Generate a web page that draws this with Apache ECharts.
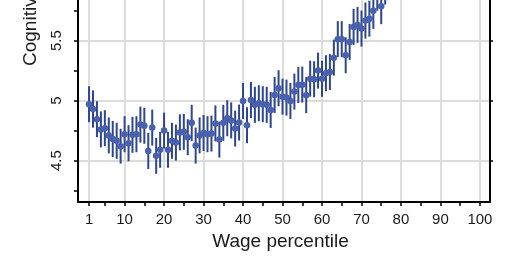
<!DOCTYPE html>
<html>
<head>
<meta charset="utf-8">
<script src="https://cdn.jsdelivr.net/npm/echarts@6/dist/echarts.min.js"></script>
<style>
html,body{margin:0;padding:0;background:#fff;}
#chart{width:520px;height:272px;}
</style>
</head>
<body>
<div id="chart"></div>
<script>
const percentiles = [1,2,3,4,5,6,7,8,9,10,11,12,13,14,15,16,17,18,19,20,21,22,23,24,25,26,27,28,29,30,31,32,33,34,35,36,37,38,39,40,41,42,43,44,45,46,47,48,49,50,51,52,53,54,55,56,57,58,59,60,61,62,63,64,65,66,67,68,69,70,71,72,73,74,75,76];
const meanScore = [4.97,4.93,4.845,4.76,4.77,4.71,4.68,4.665,4.62,4.72,4.645,4.715,4.72,4.80,4.79,4.58,4.775,4.54,4.59,4.75,4.59,4.665,4.65,4.735,4.74,4.695,4.815,4.625,4.71,4.73,4.72,4.725,4.81,4.675,4.815,4.853,4.835,4.767,4.817,4.997,4.795,5.005,4.965,4.978,4.97,4.965,4.922,5.047,5.103,5.033,5.025,4.997,5.075,5.13,5.133,5.045,5.183,5.178,5.25,5.182,5.228,5.238,5.358,5.512,5.512,5.378,5.489,5.614,5.631,5.60,5.667,5.683,5.748,5.90,5.787,5.95];
const errHalf = [0.15,0.155,0.15,0.15,0.15,0.15,0.15,0.15,0.145,0.15,0.15,0.15,0.15,0.15,0.15,0.15,0.15,0.15,0.15,0.15,0.15,0.15,0.15,0.15,0.15,0.15,0.15,0.15,0.15,0.15,0.15,0.15,0.15,0.15,0.15,0.15,0.15,0.15,0.15,0.15,0.15,0.15,0.15,0.15,0.15,0.15,0.15,0.15,0.15,0.15,0.15,0.15,0.15,0.15,0.15,0.15,0.15,0.15,0.15,0.15,0.15,0.15,0.15,0.15,0.15,0.15,0.15,0.15,0.15,0.15,0.15,0.15,0.15,0.15,0.15,0.15];
const xTickLabels = [1,10,20,30,40,50,60,70,80,90,100];
const xTickMarks = [1,5,10,15,20,25,30,35,40,45,50,55,60,65,70,75,80,85,90,95,100];
const yTickLabels = [4.5,5,5.5];
const yTickMarks = [4.25,4.5,4.75,5,5.25,5.5,5.75];
const yGridValues = [4.5,5,5.5];
const xTitle = 'Wage percentile';
const yTitle = 'Cognitive ability';

const pointData = percentiles.map((p, i) => [p, meanScore[i]]);
const barData = percentiles.map((p, i) => [p, meanScore[i] - errHalf[i], meanScore[i] + errHalf[i]]);

const gridLineStyle = {color: '#dcdcdc', width: 2, type: 'solid'};
const gridMarks = xTickLabels.map(v => ({xAxis: v})).concat(yGridValues.map(v => ({yAxis: v})));

const chart = echarts.init(document.getElementById('chart'), null, {renderer: 'canvas'});
const font = 'Liberation Sans';
chart.setOption({
  animation: false,
  backgroundColor: '#ffffff',
  textStyle: {fontFamily: font},
  grid: {left: 78, right: 30, top: 0, bottom: 70, containLabel: false},
  xAxis: {
    type: 'value', min: -1.8, max: 102.55, z: 5,
    axisLine: {show: true, onZero: false, lineStyle: {color: '#000', width: 2}},
    axisTick: {show: true, length: 4, inside: false, customValues: xTickMarks, lineStyle: {color: '#000', width: 1.5}},
    axisLabel: {show: true, customValues: xTickLabels, margin: 10, fontSize: 15, color: '#1a1a1a', fontFamily: font},
    splitLine: {show: false}
  },
  yAxis: [{
    type: 'value', min: 4.155, max: 5.8383, position: 'left', z: 5,
    axisLine: {show: true, onZero: false, lineStyle: {color: '#000', width: 2}},
    axisTick: {show: true, length: 4, inside: false, customValues: yTickMarks, lineStyle: {color: '#000', width: 1.5}},
    axisLabel: {show: true, customValues: yTickLabels, rotate: 90, margin: 14, fontSize: 15, color: '#1a1a1a', fontFamily: font},
    splitLine: {show: false}
  }, {
    type: 'value', min: 4.155, max: 5.8383, position: 'right', z: 5,
    axisLine: {show: true, onZero: false, lineStyle: {color: '#000', width: 2}},
    axisTick: {show: true, length: 3, inside: false, customValues: yGridValues, lineStyle: {color: '#000', width: 1.5}},
    axisLabel: {show: false},
    splitLine: {show: false}
  }],
  series: [{
    type: 'line', data: [], z: 0, silent: true,
    markLine: {
      z: 0, silent: true, symbol: ['none', 'none'], label: {show: false},
      lineStyle: gridLineStyle, emphasis: {disabled: true},
      data: gridMarks
    }
  }, {
    type: 'custom', z: 2, silent: true, clip: false,
    encode: {x: 0, y: [1, 2]},
    data: barData,
    renderItem: function (params, api) {
      const x = api.value(0);
      const a = api.coord([x, api.value(1)]);
      const b = api.coord([x, api.value(2)]);
      return {type: 'line', shape: {x1: a[0], y1: a[1], x2: b[0], y2: b[1]}, style: {stroke: '#2e4593', lineWidth: 2}};
    }
  }, {
    type: 'scatter', z: 3, silent: true, clip: false,
    data: pointData, symbol: 'circle', symbolSize: 6.5,
    itemStyle: {color: '#4860ad', opacity: 1}
  }],
  graphic: [{
    type: 'text', x: 280.5, y: 242, z: 10,
    style: {text: xTitle, fontSize: 19, fontFamily: font, fill: '#1a1a1a', align: 'center', verticalAlign: 'middle'}
  }, {
    type: 'text', x: 30.5, y: 66, rotation: Math.PI / 2, z: 10,
    style: {text: yTitle, fontSize: 19, fontFamily: font, fill: '#1a1a1a', align: 'left', verticalAlign: 'middle'}
  }]
});
</script>
</body>
</html>
